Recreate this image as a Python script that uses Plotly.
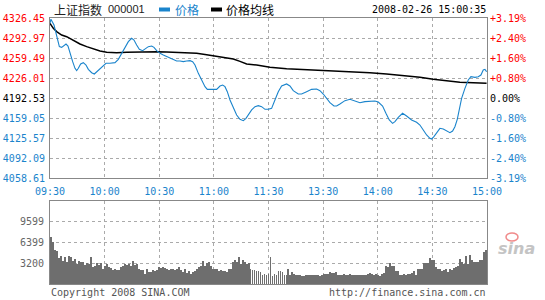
import plotly.graph_objects as go

# ---------------- data ----------------
prev_close = 4192.53
price_ticks = [4058.61, 4092.09, 4125.57, 4159.05, 4192.53, 4226.01, 4259.49, 4292.97, 4326.45]
pct_labels = ["-3.19%", "-2.40%", "-1.60%", "-0.80%", "0.00%", "+0.80%", "+1.60%", "+2.40%", "+3.19%"]
time_ticks = [0, 30, 60, 90, 120, 150, 180, 210, 240]
time_labels = ["09:30", "10:00", "10:30", "11:00", "11:30", "13:30", "14:00", "14:30", "15:00"]
vol_ticks = [3200, 6399, 9599]

price_min = [0, 0.5, 2.2, 3.66, 5.13, 6.41, 7.69, 8.79, 9.88, 10.98, 12.45, 13.73, 14.64, 15.56, 16.84,
             18.30, 19.77, 21.05, 22.88, 24.35, 25.63, 27.46, 29.29, 30.75, 32.95, 35.69, 37.53, 39.36,
             41.19, 43.02, 44.85, 46.13, 47.59, 49.06, 50.89, 52.17, 54.00, 55.83, 57.11, 58.58, 60.41,
             62.24, 64.07, 65.90, 67.73, 69.56, 71.39, 73.22, 75.05, 76.88, 78.35, 79.63, 81.46, 83.29,
             85.12, 86.40, 87.86, 89.69, 91.52, 93.36, 94.82, 96.10, 97.38, 98.85, 100.68, 102.51, 104.34,
             106.17, 107.63, 108.91, 110.75, 112.58, 114.41, 116.24, 118.07, 119.90, 121.71, 123.54,
             125.37, 127.20, 129.94, 131.77, 133.60, 136.35, 138.18, 140.93, 143.67, 146.42, 148.25,
             150.08, 151.91, 153.74, 155.94, 157.40, 159.23, 161.98, 164.72, 167.47, 170.22, 172.96,
             175.71, 178.45, 180.28, 182.66, 184.49, 186.32, 188.15, 189.44, 191.27, 193.64, 195.84,
             198.59, 201.33, 203.16, 205.00, 206.83, 208.66, 209.57, 210.85, 212.32, 214.15, 215.98,
             217.81, 219.64, 221.10, 222.38, 223.67, 224.76, 226.05, 227.88, 229.71, 231.17, 233.37,
             235.20, 236.66, 237.94, 238.86, 239.77]
price_val = [4318.0, 4325.0, 4315.2, 4295.7, 4279.0, 4277.8, 4281.7, 4283.4, 4280.1, 4267.8, 4253.9, 4242.7,
             4238.8, 4242.7, 4250.0, 4252.2, 4248.3, 4241.0, 4235.4, 4233.2, 4237.1, 4242.7, 4248.3, 4251.1,
             4251.1, 4252.2, 4257.8, 4267.8, 4279.0, 4287.3, 4292.9, 4290.1, 4281.7, 4274.5, 4272.3, 4275.1,
             4279.0, 4280.1, 4277.8, 4272.3, 4267.8, 4265.0, 4262.2, 4259.4, 4256.6, 4255.0, 4255.0, 4253.9,
             4255.0, 4255.6, 4253.9, 4248.3, 4234.3, 4223.2, 4212.0, 4207.5, 4207.5, 4207.5, 4207.5, 4213.1,
             4214.8, 4212.0, 4203.6, 4189.7, 4178.5, 4164.6, 4157.3, 4155.1, 4159.0, 4164.6, 4173.0, 4178.5,
             4180.2, 4178.5, 4174.1, 4174.1, 4175.7, 4189.7, 4203.6, 4213.1, 4216.5, 4213.1, 4205.3, 4199.7,
             4199.7, 4203.6, 4207.5, 4208.1, 4205.3, 4199.7, 4192.5, 4185.2, 4179.6, 4179.6, 4183.0, 4188.6,
             4190.8, 4188.6, 4185.2, 4186.9, 4188.0, 4188.0, 4186.3, 4179.6, 4167.4, 4156.2, 4150.6, 4153.4,
             4160.7, 4167.4, 4162.9, 4156.2, 4152.3, 4147.8, 4139.5, 4131.1, 4125.5, 4124.4, 4128.3, 4135.6,
             4142.3, 4141.1, 4138.3, 4135.0, 4137.8, 4145.0, 4157.3, 4172.9, 4192.5, 4209.2, 4223.2, 4228.7,
             4227.6, 4228.7, 4231.5, 4239.9, 4241.0, 4237.1]

avg_min = [0, 0.9, 1.83, 3.66, 6.41, 9.15, 12.81, 16.47, 20.14, 23.80, 27.46, 31.12, 33.86, 36.61, 42.10,
           47.59, 53.08, 58.58, 64.07, 69.56, 75.05, 80.54, 86.03, 91.52, 97.02, 100.68, 104.34, 108.0,
           113.49, 118.07, 120.8, 129.94, 139.1, 148.25, 157.4, 166.55, 175.7, 184.85, 194.0, 203.16,
           210.5, 217.8, 225.1, 232.45, 239.77]
avg_val = [4318.0, 4313.6, 4309.6, 4304.1, 4298.5, 4295.7, 4289.0, 4283.4, 4279.0, 4275.1, 4271.7, 4269.5,
           4268.9, 4268.9, 4269.5, 4270.0, 4270.6, 4270.6, 4270.0, 4269.5, 4268.9, 4267.8, 4265.6, 4263.3,
           4261.1, 4258.3, 4254.4, 4249.9, 4248.3, 4245.5, 4244.4, 4242.1, 4241.0, 4239.9, 4238.2, 4236.5,
           4235.4, 4233.2, 4231.0, 4227.6, 4224.3, 4221.5, 4219.3, 4218.7, 4217.6]

volume = [7250, 6450, 5250, 5100, 3950, 4350, 3600, 4200, 3350, 4350, 4100, 3500, 3850, 3100, 3600, 3350,
          3450, 2950, 3200, 3100, 4200, 2600, 2850, 3200, 2950, 3200, 2350, 2850, 3100, 2600, 2450, 2100,
          2350, 2100, 2100, 2600, 2850, 3100, 2950, 3100, 2850, 3600, 2950, 3100, 2250, 2100, 2100, 1600,
          2250, 1850, 1850, 2100, 1950, 2100, 2600, 2450,
          2600, 2450, 2350, 2100, 2350, 2250, 2100, 2250, 2600, 2100, 1850, 2250, 1750, 1950, 1600, 1850,
          1950, 2250, 2600, 2850, 3600, 2850, 3200, 3450, 2850, 2350, 2350, 2350, 1950, 2100, 1950, 1950,
          1850, 2350, 2250, 3350, 3750, 3350, 4200, 3100, 3700, 3350, 3100, 3250, 2350, 2200, 2100, 1950,
          1950, 1850, 1350, 1600, 1350, 1600, 4100,
          1250, 1600, 1450, 1950, 1950, 1850, 1350, 1450, 2250, 1450, 1850, 1600, 1450, 1350, 1350, 1250,
          1200, 1350, 1350, 1350, 1450, 1350, 1350, 1350, 1250, 1450, 1600, 1600, 1600, 1850, 1750, 1750,
          1850, 1450, 1350, 1450, 1600, 1450, 1350, 1600, 1450, 1450, 1450, 1450, 1450, 1450, 1450, 1450,
          1600, 1700, 1600, 1350, 1600, 1350,
          1200, 1600, 1750, 2850, 2600, 3200, 2850, 2850, 1950, 1950, 1450, 1450, 1600, 1350, 1600, 1600,
          1750, 1950, 1450, 2250, 2250, 2250, 3250, 3250, 3250, 4000, 3700, 3700, 2600, 2350, 2250, 1950,
          2100, 2250, 1850, 2250, 2200, 2450, 2600, 2750, 3850, 3450, 3100, 4250, 3100, 4450, 3700, 3350,
          3350, 3350, 3700, 3700, 4950, 5250]

# ---------------- styling ----------------
W, H = 545, 300
X0, X1 = 50, 487
MAIN_TOP, MAIN_BOT = 18.3, 178.3
VOL_TOP, VOL_BOT = 201, 284
RED, BLUE, BLK, GRAY = "#ff0000", "#1a84cc", "#000000", "#888888"
MONO = "DejaVu Sans Mono"
CJK = "Noto Sans CJK SC"

def py(p):
    return 1 - p / H

def colored(val, text):
    c = RED if val > prev_close + 0.01 else (BLUE if val < prev_close - 0.01 else BLK)
    return f'<span style="color:{c}">{text}</span>'

left_text = [colored(v, f"{v:.2f}") for v in price_ticks]
right_text = [colored(v, t) for v, t in zip(price_ticks, pct_labels)]

n = len(volume)
vol_x = [0.6 + i * (238.8 / (n - 1)) for i in range(n)]

fig = go.Figure()
fig.add_trace(go.Scatter(x=avg_min, y=avg_val, mode="lines", line=dict(color="#000000", width=1.5),
                         xaxis="x", yaxis="y", hoverinfo="skip"))
fig.add_trace(go.Scatter(x=price_min, y=price_val, mode="lines", line=dict(color=BLUE, width=1.1),
                         xaxis="x", yaxis="y", hoverinfo="skip"))
fig.add_trace(go.Scatter(x=[0, 240], y=[prev_close, prev_close], mode="lines", opacity=0,
                         xaxis="x", yaxis="y2", hoverinfo="skip"))
fig.add_trace(go.Bar(x=vol_x, y=volume, width=0.5, marker=dict(color="#6e6e6e", line=dict(width=0)),
                     xaxis="x2", yaxis="y3", hoverinfo="skip"))

axis_common = dict(showline=True, linecolor=GRAY, linewidth=1, mirror=True, zeroline=False,
                   showgrid=True, gridcolor="#aaaaaa", griddash="dot", gridwidth=1, ticks="",
                   automargin=False)

fig.update_layout(
    width=W, height=H, margin=dict(l=0, r=0, t=0, b=0, pad=0, autoexpand=False),
    paper_bgcolor="white", plot_bgcolor="white", showlegend=False,
    xaxis=dict(domain=[X0 / W, X1 / W], range=[0, 240], anchor="y",
               tickvals=time_ticks, ticktext=time_labels,
               tickfont=dict(family=MONO, size=10, color=BLUE), ticklabelstandoff=4, **axis_common),
    yaxis=dict(domain=[py(MAIN_BOT), py(MAIN_TOP)], range=[price_ticks[0], price_ticks[-1]], anchor="x",
               tickvals=price_ticks, ticktext=left_text,
               tickfont=dict(family=MONO, size=10), ticklabelstandoff=2, **axis_common),
    yaxis2=dict(overlaying="y", side="right", anchor="x", range=[price_ticks[0], price_ticks[-1]],
                tickvals=price_ticks, ticktext=right_text, showgrid=False, zeroline=False,
                showline=False, ticks="", automargin=False,
                tickfont=dict(family=MONO, size=10), ticklabelstandoff=2),
    xaxis2=dict(domain=[X0 / W, X1 / W], range=[0, 240], anchor="y3", tickvals=time_ticks,
                showticklabels=False, **axis_common),
    yaxis3=dict(domain=[py(VOL_BOT), py(VOL_TOP)], range=[0, 12799], anchor="x2",
                tickvals=vol_ticks, ticktext=[str(v) for v in vol_ticks],
                tickfont=dict(family=MONO, size=10, color="#666666"), ticklabelstandoff=3, **axis_common),
    bargap=0,
)

ann = [
    dict(x=52 / W, y=py(9.5), text="上证指数", font=dict(family=CJK, size=12, color="#222222"),
         xanchor="left"),
    dict(x=106 / W, y=py(9.5), text="000001", font=dict(family="Liberation Sans", size=11, color="#222222"),
         xanchor="left"),
    dict(x=173 / W, y=py(9.5), text="价格", font=dict(family=CJK, size=12, color=BLUE), xanchor="left"),
    dict(x=224 / W, y=py(9.5), text="价格均线", font=dict(family=CJK, size=12, color="#000000"), xanchor="left"),
    dict(x=488 / W, y=py(9.5), text="2008-02-26 15:00:35", font=dict(family=MONO, size=10, color="#000000"),
         xanchor="right"),
    dict(x=49 / W, y=py(292), text="Copyright 2008 SINA.COM", font=dict(family=MONO, size=10, color="#555555"),
         xanchor="left"),
    dict(x=488 / W, y=py(292), text="http://finance.sina.com.cn", font=dict(family=MONO, size=10, color="#555555"),
         xanchor="right"),
    dict(x=516 / W, y=py(248), text="sina", font=dict(family="DejaVu Sans", size=16, color="#c4c4c4",
         style="italic", weight="bold"), xanchor="center"),
]
for a in ann:
    a.update(xref="paper", yref="paper", yanchor="middle", showarrow=False)
fig.update_layout(annotations=ann)

fig.update_layout(shapes=[
    dict(type="rect", xref="paper", yref="paper", x0=159 / W, x1=170 / W, y0=py(11.5), y1=py(7.5),
         fillcolor=BLUE, line=dict(width=0)),
    dict(type="rect", xref="paper", yref="paper", x0=211 / W, x1=222 / W, y0=py(11.5), y1=py(7.5),
         fillcolor="#000000", line=dict(width=0)),
    dict(type="circle", xref="paper", yref="paper", x0=506 / W, x1=518 / W, y0=py(241), y1=py(233),
         fillcolor="rgba(0,0,0,0)", line=dict(color="#f08a8a", width=1.5)),
])

fig.write_html("out.html")
